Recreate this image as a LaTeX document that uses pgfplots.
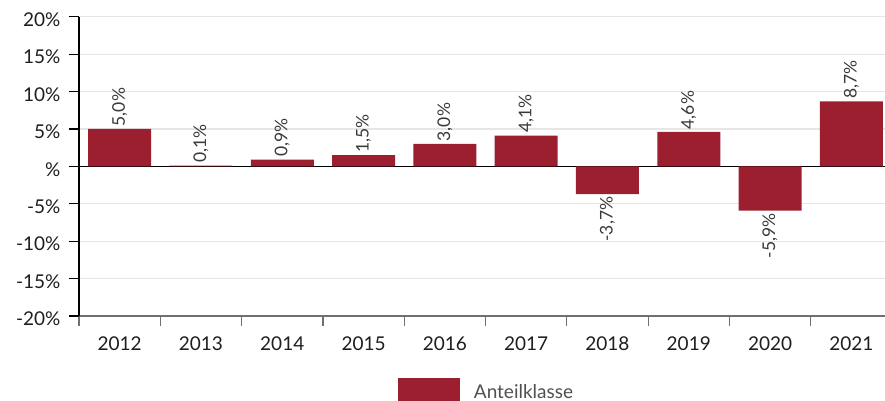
\documentclass[border=0pt]{standalone}
\usepackage{pgfplots}
\pgfplotsset{compat=1.18}
\usepackage{fontspec}
\setmainfont{Lato}
\definecolor{barcol}{HTML}{9C1F2F}
\definecolor{gridcol}{HTML}{E6E6E6}
\definecolor{xaxcol}{HTML}{707070}
\definecolor{txtcol}{HTML}{1E1E1E}
\definecolor{lblcol}{HTML}{3A3A3A}
\definecolor{legcol}{HTML}{505050}
\begin{document}
\begin{tikzpicture}
\begin{axis}[
  name=ax,
  scale only axis,
  width=813pt, height=299.3pt,
  xmin=-0.5, xmax=9.5, ymin=-20, ymax=20,
  axis lines=left,
  axis line style={-},
  x axis line style={draw=xaxcol, line width=1.3pt},
  y axis line style={draw=black, line width=1.3pt},
  ytick={-20,-15,...,20},
  yticklabels={-20\%,-15\%,-10\%,-5\%,\%,5\%,10\%,15\%,20\%},
  ymajorgrids,
  grid style={draw=gridcol, line width=1.2pt},
  extra y ticks={0},
  extra y tick labels={},
  extra y tick style={grid style={draw=black, line width=1.3pt}},
  xtick={0,...,9},
  xticklabels={2012,2013,2014,2015,2016,2017,2018,2019,2020,2021},
  minor xtick={-0.5,0.5,...,9.5},
  tick align=outside,
  major tick length=10pt,
  minor tick length=10pt,
  major x tick style={draw=none},
  minor x tick style={draw=xaxcol, line width=1.2pt},
  y tick style={draw=black, line width=1.2pt},
  tick label style={font=\fontsize{19}{23}\selectfont, text=txtcol},
  xticklabel style={yshift=-7pt},
  yticklabel style={xshift=-5pt, yshift=-3pt},
  legend style={at={(0.5,0)}, anchor=north, yshift=-62pt, draw=none,
    font=\fontsize{19}{23}\selectfont, text=legcol, inner sep=0pt,
    nodes={inner sep=0pt}},
]
\addplot[ybar, bar width=63pt, fill=barcol, draw=none,
  legend image code/.code={\fill[barcol] (0pt,-10pt) rectangle (62pt,14pt); \path (76pt,0pt);},
  visualization depends on={value \thisrow{anc} \as \anc},
  point meta=y,
  nodes near coords={\pgfmathprintnumber[fixed, fixed zerofill, precision=1, use comma, assume math mode=true]{\pgfplotspointmeta}\%},
  nodes near coords style={rotate=90, anchor=\anc, inner sep=2.5pt,
    font=\fontsize{17.5}{20}\selectfont, text=lblcol},
] table[x=x, y=y] {
x y anc
0 5.0 west
1 0.1 west
2 0.9 west
3 1.5 west
4 3.0 west
5 4.1 west
6 -3.7 east
7 4.6 west
8 -5.9 east
9 8.7 west
};
\addlegendentry{Anteilklasse}
\end{axis}
\pgfresetboundingbox
\path[use as bounding box] ([xshift=-79pt,yshift=16.7pt]ax.north west) rectangle ++(885pt,-400pt);
\end{tikzpicture}
\end{document}
